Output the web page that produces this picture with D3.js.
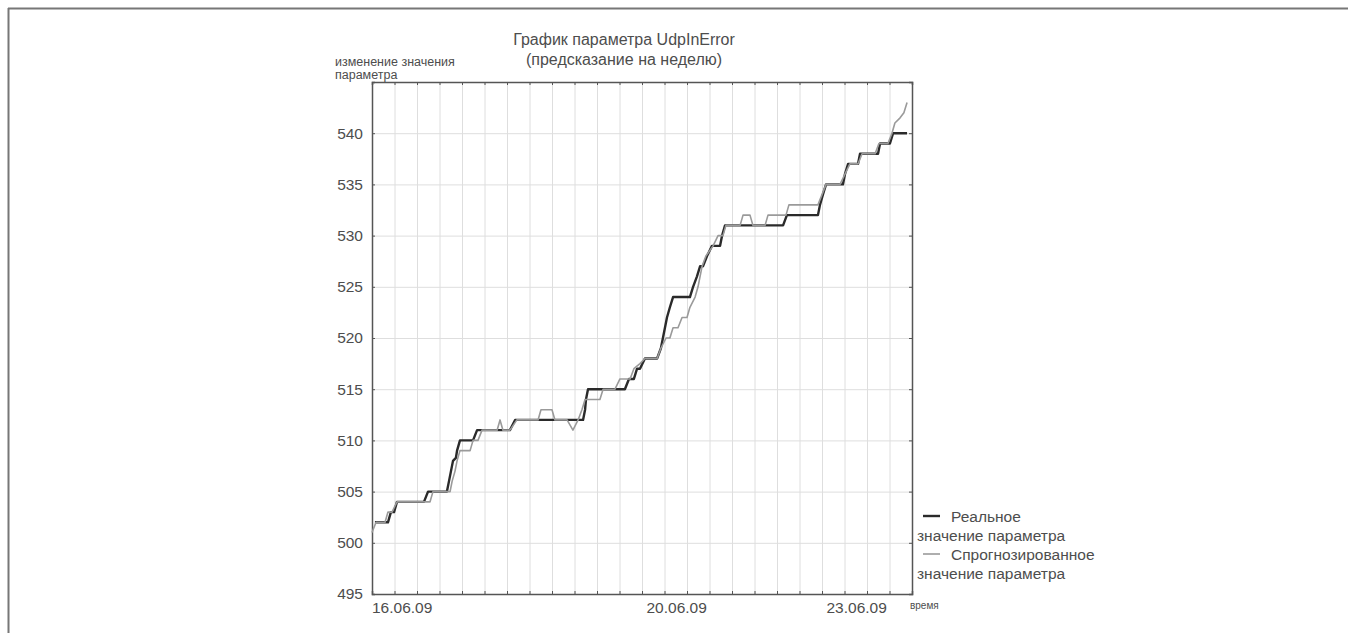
<!DOCTYPE html>
<html><head><meta charset="utf-8">
<script src="https://cdn.jsdelivr.net/npm/d3@7"></script>
<style>
html,body{margin:0;padding:0;background:#fff;}
svg{display:block;}
text{font-family:"Liberation Sans",Arial,sans-serif;fill:#4d4d4d;}
</style></head>
<body>
<svg id="c" width="1356" height="633"></svg>
<script>
// ---- data ----
const titleLines = ["График параметра UdpInError", "(предсказание на неделю)"];
const yLabelLines = ["изменение значения", "параметра"];
const xAxisLabel = "время";
const yTicks = [495, 500, 505, 510, 515, 520, 525, 530, 535, 540];
const xTickPositions = [0, 12.2, 20.2];
const xTickLabels = ["16.06.09", "20.06.09", "23.06.09"];
const seriesNames = [["Реальное", "значение параметра"], ["Спрогнозированное", "значение параметра"]];

// real values: [time index, value]
const realX = [0.13,0.71,0.84,0.98,1.11,2.31,2.49,3.33,3.42,3.51,3.60,3.73,3.78,3.91,4.49,4.67,6.13,6.36,9.38,9.47,9.51,9.60,11.24,11.42,11.64,11.78,11.91,12.13,12.67,12.84,12.93,13.02,13.11,13.24,13.38,14.13,14.27,14.44,14.58,14.71,14.89,15.11,15.47,15.56,15.69,18.27,18.44,19.82,19.91,20.04,20.18,20.93,21.02,21.16,21.60,21.69,22.49,22.58,23.02,23.16,23.78];
const realY = [502,502,503,503,504,504,505,505,506,507,508,508.3,509,510,510,511,511,512,512,513,514,515,515,516,516,517,517,518,518,519,520,521,522,523,524,524,525,526,527,527,528,529,529,530,531,531,532,532,533,534,535,535,536,537,537,538,538,539,539,540,540];
// forecast values
const predX = [0,0.18,0.58,0.71,0.89,1.11,2.58,2.71,3.47,3.56,3.69,3.78,3.91,4.36,4.49,4.71,4.89,5.56,5.69,5.82,6.13,6.44,7.38,7.51,8.00,8.13,8.67,8.93,9.16,9.33,9.47,10.13,10.27,10.80,11.02,11.47,11.64,11.91,12.13,12.67,12.84,13.07,13.24,13.38,13.60,13.78,14.00,14.13,14.36,14.49,14.67,14.84,15.16,15.38,15.60,15.73,16.36,16.49,16.80,16.93,17.47,17.60,18.40,18.53,19.82,20.00,20.18,20.80,21.02,21.24,21.60,21.78,22.36,22.53,22.93,23.11,23.24,23.47,23.64,23.78];
const predY = [501,502,502,503,503,504,504,505,505,506,507,508,509,509,510,510,511,511,512,511,511,512,512,513,513,512,512,511,512,513,514,514,515,515,516,516,517,517.5,518,518,519,520,520,521,521,522,522,523,524,525,527,528,529,530,530,531,531,532,532,531,531,532,532,533,533,534,535,535,536,537,537,538,538,539,539,540,541,541.5,542,543];

// ---- layout ----
const svg = d3.select("#c");
const L = 372, R = 912, T = 82, B = 594;
const x = d3.scaleLinear().domain([0, 24]).range([L, R]);
const y = d3.scaleLinear().domain([495, 545]).range([B, T]);

// outer frame
svg.append("line").attr("x1", 8).attr("x2", 1348).attr("y1", 8.5).attr("y2", 8.5).attr("stroke", "#777").attr("stroke-width", 2);
svg.append("line").attr("x1", 8.5).attr("x2", 8.5).attr("y1", 8).attr("y2", 633).attr("stroke", "#777").attr("stroke-width", 2);

// grid
const g = svg.append("g");
g.selectAll("line.vg").data(d3.range(1, 24)).join("line")
  .attr("x1", d => x(d) + 0.5).attr("x2", d => x(d) + 0.5).attr("y1", T).attr("y2", B)
  .attr("stroke", "#dedede").attr("stroke-width", 1);
g.selectAll("line.hg").data(yTicks.filter(v => v > 495)).join("line")
  .attr("x1", L).attr("x2", R).attr("y1", d => y(d) + 0.5).attr("y2", d => y(d) + 0.5)
  .attr("stroke", "#dedede").attr("stroke-width", 1);

// axes with inner ticks on all four sides
const tickLen = 3;
const ax = svg.append("g");
ax.append("g").attr("transform", `translate(0,${B})`)
  .call(d3.axisBottom(x).tickValues(d3.range(1, 24)).tickSize(-tickLen).tickFormat(""));
ax.append("g").attr("transform", `translate(0,${T})`)
  .call(d3.axisTop(x).tickValues(d3.range(1, 24)).tickSize(-tickLen).tickFormat(""));
ax.append("g").attr("transform", `translate(${L},0)`)
  .call(d3.axisLeft(y).tickValues(yTicks).tickSize(-tickLen).tickFormat(""));
ax.append("g").attr("transform", `translate(${R},0)`)
  .call(d3.axisRight(y).tickValues(yTicks).tickSize(-tickLen).tickFormat(""));
ax.selectAll("path.domain").attr("stroke", "#555").attr("stroke-width", 1.5);
ax.selectAll(".tick line").attr("stroke", "#555");

// y tick labels
svg.append("g").selectAll("text").data(yTicks).join("text")
  .attr("x", L - 9).attr("y", d => y(d)).attr("dy", "0.35em")
  .attr("text-anchor", "end").attr("font-size", 15.5).text(d => d);
// x tick labels
svg.append("g").selectAll("text").data(xTickPositions).join("text")
  .attr("x", d => x(d)).attr("y", 613)
  .attr("text-anchor", "start").attr("font-size", 15.5).text((d, i) => xTickLabels[i]);
svg.append("text").attr("x", 910).attr("y", 609).attr("font-size", 10).text(xAxisLabel);

// title
svg.append("g").selectAll("text").data(titleLines).join("text")
  .attr("x", 624).attr("y", (d, i) => 45 + i * 20).attr("text-anchor", "middle")
  .attr("font-size", 16).text(d => d);
// y label
svg.append("g").selectAll("text").data(yLabelLines).join("text")
  .attr("x", 335).attr("y", (d, i) => 66 + i * 13).attr("font-size", 12.5).text(d => d);

// lines
const line = d3.line().x(d => x(d[0])).y(d => y(d[1]));
const predData = predX.map((v, i) => [v, predY[i]]);
const realData = realX.map((v, i) => [v, realY[i]]);
svg.append("path").datum(realData).attr("d", line).attr("fill", "none")
  .attr("stroke", "#2a2a2a").attr("stroke-width", 2.4).attr("stroke-linejoin", "round");
svg.append("path").datum(predData).attr("d", line).attr("fill", "none")
  .attr("stroke", "#9a9a9a").attr("stroke-width", 1.6).attr("stroke-linejoin", "round");

// legend
const legColors = ["#2a2a2a", "#9a9a9a"], legWidths = [2.4, 1.6];
const lg = svg.append("g");
seriesNames.forEach((nm, i) => {
  const cy = 516 + i * 38;
  lg.append("line").attr("x1", 923).attr("x2", 940).attr("y1", cy).attr("y2", cy)
    .attr("stroke", legColors[i]).attr("stroke-width", legWidths[i]);
  lg.append("text").attr("x", 951).attr("y", cy + 5.5).attr("font-size", 15.5).text(nm[0]);
  lg.append("text").attr("x", 917).attr("y", cy + 24.5).attr("font-size", 15.5).text(nm[1]);
});
</script>
</body></html>
